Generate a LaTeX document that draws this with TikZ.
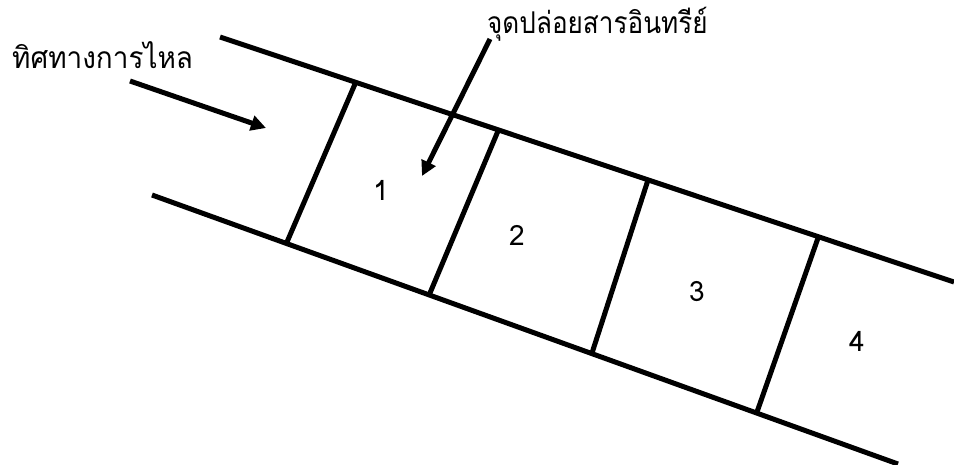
\documentclass[tikz,border=0pt]{standalone}
\usepackage{fontspec}
\usepackage{graphicx}
\usetikzlibrary{arrows.meta}
\newfontfamily\thaifont[Script=Thai]{Loma}
\begin{document}
\begin{tikzpicture}[x=1pt,y=-1pt,
  wall/.style={line width=5pt,black},
  flowarrow/.style={line width=5pt,black,-{Triangle[length=15pt,width=15pt]}},
  label/.style={font=\thaifont\fontsize{30}{34}\selectfont,inner sep=0pt},
  num/.style={font=\thaifont\fontsize{28}{30}\selectfont,inner sep=0pt}]
\useasboundingbox (0,0) rectangle (954,464);
% banks
\coordinate (t0) at (220,37);
\coordinate (t1) at (954,282);
\coordinate (b0) at (152,195);
\coordinate (b1) at (898,464);
\draw[wall] (t0) -- (t1);
\draw[wall] (b0) -- (b1);
% dividers
\coordinate (d1t) at (355,84);  \coordinate (d1b) at (287,242);
\coordinate (d2t) at (498,131); \coordinate (d2b) at (430,293);
\coordinate (d3t) at (648,180); \coordinate (d3b) at (592,353);
\coordinate (d4t) at (818,238); \coordinate (d4b) at (757,412);
\draw[wall] (d1t) -- (d1b);
\draw[wall] (d2t) -- (d2b);
\draw[wall] (d3t) -- (d3b);
\draw[wall] (d4t) -- (d4b);
% labels
\node[label,anchor=west] (flow) at (12,55) {\scalebox{0.93}[1]{ทิศทางการไหล}};
\node[label,anchor=west] (src) at (487,24) {\scalebox{0.87}[1]{จุดปล่อยสารอินทรีย์}};
% arrows
\coordinate (fa0) at (130,81);
\coordinate (fa1) at (266,128);
\draw[flowarrow] (fa0) -- (fa1);
\coordinate (sa0) at (490,39);
\coordinate (sa1) at (422,176);
\draw[flowarrow] (sa0) -- (sa1);
% numbers
\node[num] (n1) at (381,190) {1};
\node[num] (n2) at (517,235) {2};
\node[num] (n3) at (697,292) {3};
\node[num] (n4) at (857,341) {4};
\end{tikzpicture}
\end{document}
